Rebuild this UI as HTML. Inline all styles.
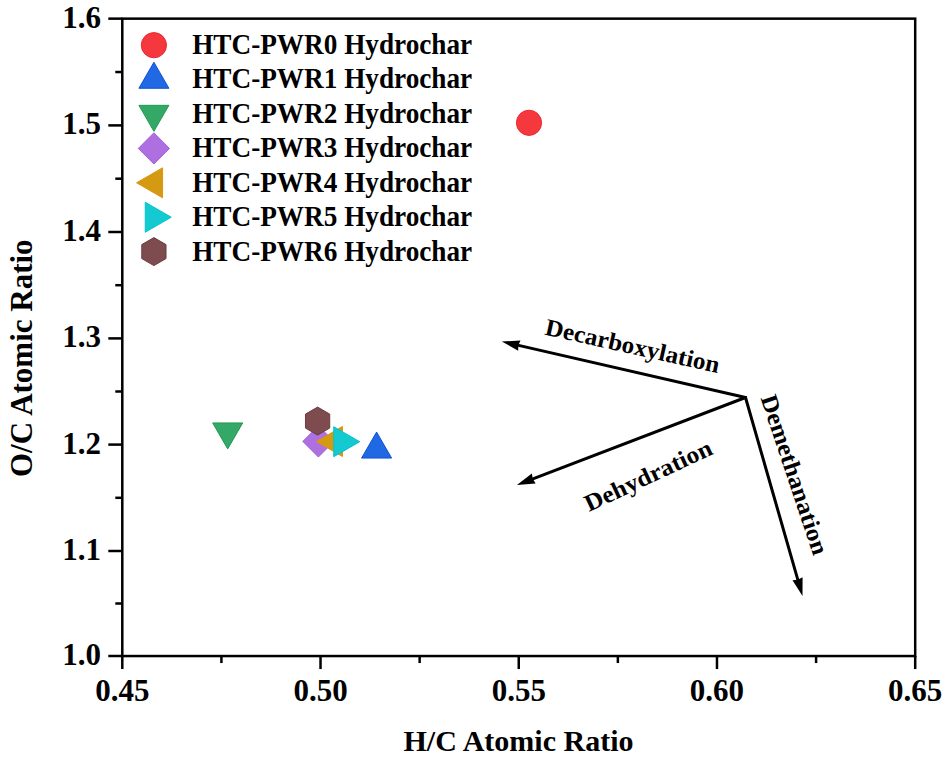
<!DOCTYPE html><html><head><meta charset="utf-8"><style>html,body{margin:0;padding:0;background:#fff;}svg{display:block;}</style></head><body>
<svg width="949" height="758" viewBox="0 0 949 758">
<rect width="949" height="758" fill="#fff"/>
<g font-family='"Liberation Serif", serif' font-weight="bold" fill="#000">
<rect x="122.3" y="18.65" width="792.9000000000001" height="637.4" fill="none" stroke="#000" stroke-width="2.5"/>
<line x1="108.3" y1="656.00" x2="122.3" y2="656.00" stroke="#000" stroke-width="2.5"/>
<line x1="115.3" y1="603.50" x2="122.3" y2="603.50" stroke="#000" stroke-width="2.5"/>
<text x="101" y="665.00" font-size="31" text-anchor="end">1.0</text>
<line x1="108.3" y1="551.00" x2="122.3" y2="551.00" stroke="#000" stroke-width="2.5"/>
<line x1="115.3" y1="497.80" x2="122.3" y2="497.80" stroke="#000" stroke-width="2.5"/>
<text x="101" y="560.00" font-size="31" text-anchor="end">1.1</text>
<line x1="108.3" y1="444.60" x2="122.3" y2="444.60" stroke="#000" stroke-width="2.5"/>
<line x1="115.3" y1="391.50" x2="122.3" y2="391.50" stroke="#000" stroke-width="2.5"/>
<text x="101" y="453.60" font-size="31" text-anchor="end">1.2</text>
<line x1="108.3" y1="338.40" x2="122.3" y2="338.40" stroke="#000" stroke-width="2.5"/>
<line x1="115.3" y1="285.20" x2="122.3" y2="285.20" stroke="#000" stroke-width="2.5"/>
<text x="101" y="347.40" font-size="31" text-anchor="end">1.3</text>
<line x1="108.3" y1="232.00" x2="122.3" y2="232.00" stroke="#000" stroke-width="2.5"/>
<line x1="115.3" y1="178.70" x2="122.3" y2="178.70" stroke="#000" stroke-width="2.5"/>
<text x="101" y="241.00" font-size="31" text-anchor="end">1.4</text>
<line x1="108.3" y1="125.40" x2="122.3" y2="125.40" stroke="#000" stroke-width="2.5"/>
<line x1="115.3" y1="72.03" x2="122.3" y2="72.03" stroke="#000" stroke-width="2.5"/>
<text x="101" y="134.40" font-size="31" text-anchor="end">1.5</text>
<line x1="108.3" y1="18.65" x2="122.3" y2="18.65" stroke="#000" stroke-width="2.5"/>
<text x="101" y="27.65" font-size="31" text-anchor="end">1.6</text>
<line x1="122.30" y1="656.05" x2="122.30" y2="669.05" stroke="#000" stroke-width="2.5"/>
<line x1="221.41" y1="656.05" x2="221.41" y2="663.05" stroke="#000" stroke-width="2.5"/>
<text x="122.30" y="701.3" font-size="31" text-anchor="middle">0.45</text>
<line x1="320.52" y1="656.05" x2="320.52" y2="669.05" stroke="#000" stroke-width="2.5"/>
<line x1="419.64" y1="656.05" x2="419.64" y2="663.05" stroke="#000" stroke-width="2.5"/>
<text x="320.52" y="701.3" font-size="31" text-anchor="middle">0.50</text>
<line x1="518.75" y1="656.05" x2="518.75" y2="669.05" stroke="#000" stroke-width="2.5"/>
<line x1="617.86" y1="656.05" x2="617.86" y2="663.05" stroke="#000" stroke-width="2.5"/>
<text x="518.75" y="701.3" font-size="31" text-anchor="middle">0.55</text>
<line x1="716.98" y1="656.05" x2="716.98" y2="669.05" stroke="#000" stroke-width="2.5"/>
<line x1="816.09" y1="656.05" x2="816.09" y2="663.05" stroke="#000" stroke-width="2.5"/>
<text x="716.98" y="701.3" font-size="31" text-anchor="middle">0.60</text>
<line x1="915.20" y1="656.05" x2="915.20" y2="669.05" stroke="#000" stroke-width="2.5"/>
<text x="915.20" y="701.3" font-size="31" text-anchor="middle">0.65</text>
<text x="518.5" y="751.1" font-size="30" text-anchor="middle">H/C Atomic Ratio</text>
<text transform="translate(31.5,358.2) rotate(-90)" x="0" y="0" font-size="31" text-anchor="middle">O/C Atomic Ratio</text>
</g>
<circle cx="153.90" cy="45.20" r="12.6" fill="#f4383e" stroke="#e82a30" stroke-width="1"/>
<text x="192.2" y="53.90" font-family='"Liberation Serif", serif' font-weight="bold" font-size="29" textLength="280" lengthAdjust="spacingAndGlyphs">HTC-PWR0 Hydrochar</text>
<polygon points="153.90,62.28 168.90,88.26 138.90,88.26" fill="#2068e4" stroke="#0c52d8" stroke-width="1" stroke-linejoin="round"/>
<text x="192.2" y="88.35" font-family='"Liberation Serif", serif' font-weight="bold" font-size="29" textLength="280" lengthAdjust="spacingAndGlyphs">HTC-PWR1 Hydrochar</text>
<polygon points="153.90,131.32 168.90,105.34 138.90,105.34" fill="#34a866" stroke="#1f9a50" stroke-width="1" stroke-linejoin="round"/>
<text x="192.2" y="122.80" font-family='"Liberation Serif", serif' font-weight="bold" font-size="29" textLength="280" lengthAdjust="spacingAndGlyphs">HTC-PWR2 Hydrochar</text>
<polygon points="153.90,132.80 169.50,148.40 153.90,164.00 138.30,148.40" fill="#ae70e0" stroke="#a060dc" stroke-width="1" stroke-linejoin="round"/>
<text x="192.2" y="157.25" font-family='"Liberation Serif", serif' font-weight="bold" font-size="29" textLength="280" lengthAdjust="spacingAndGlyphs">HTC-PWR3 Hydrochar</text>
<polygon points="136.58,182.80 162.56,167.80 162.56,197.80" fill="#d49a12" stroke="#e09410" stroke-width="1" stroke-linejoin="round"/>
<text x="192.2" y="191.70" font-family='"Liberation Serif", serif' font-weight="bold" font-size="29" textLength="280" lengthAdjust="spacingAndGlyphs">HTC-PWR4 Hydrochar</text>
<polygon points="171.22,217.20 145.24,202.20 145.24,232.20" fill="#14cad0" stroke="#00c4cc" stroke-width="1" stroke-linejoin="round"/>
<text x="192.2" y="226.15" font-family='"Liberation Serif", serif' font-weight="bold" font-size="29" textLength="280" lengthAdjust="spacingAndGlyphs">HTC-PWR5 Hydrochar</text>
<polygon points="153.90,237.60 141.78,244.60 141.78,258.60 153.90,265.60 166.02,258.60 166.02,244.60" fill="#7e4c4e" stroke="#6c3c40" stroke-width="1" stroke-linejoin="round"/>
<text x="192.2" y="260.60" font-family='"Liberation Serif", serif' font-weight="bold" font-size="29" textLength="280" lengthAdjust="spacingAndGlyphs">HTC-PWR6 Hydrochar</text>
<circle cx="529.00" cy="122.80" r="12.6" fill="#f4383e" stroke="#e82a30" stroke-width="1"/>
<polygon points="227.70,448.92 242.70,422.94 212.70,422.94" fill="#34a866" stroke="#1f9a50" stroke-width="1" stroke-linejoin="round"/>
<polygon points="318.40,425.80 334.00,441.40 318.40,457.00 302.80,441.40" fill="#ae70e0" stroke="#a060dc" stroke-width="1" stroke-linejoin="round"/>
<polygon points="316.48,441.50 342.46,426.50 342.46,456.50" fill="#d49a12" stroke="#e09410" stroke-width="1" stroke-linejoin="round"/>
<polygon points="317.60,407.10 305.48,414.10 305.48,428.10 317.60,435.10 329.72,428.10 329.72,414.10" fill="#7e4c4e" stroke="#6c3c40" stroke-width="1" stroke-linejoin="round"/>
<polygon points="359.72,441.70 333.74,426.70 333.74,456.70" fill="#14cad0" stroke="#00c4cc" stroke-width="1" stroke-linejoin="round"/>
<polygon points="376.60,432.08 391.60,458.06 361.60,458.06" fill="#2068e4" stroke="#0c52d8" stroke-width="1" stroke-linejoin="round"/>
<line x1="745.5" y1="397.5" x2="516.42" y2="344.86" stroke="#000" stroke-width="3" stroke-linecap="round"/><polygon points="501.80,341.50 520.52,340.41 518.37,345.31 518.17,350.65" fill="#000"/>
<line x1="745.5" y1="397.5" x2="530.91" y2="479.54" stroke="#000" stroke-width="3" stroke-linecap="round"/><polygon points="516.90,484.90 531.84,473.57 532.78,478.83 535.59,483.38" fill="#000"/>
<line x1="745.5" y1="397.5" x2="798.36" y2="581.58" stroke="#000" stroke-width="3" stroke-linecap="round"/><polygon points="802.50,596.00 792.49,580.15 797.81,579.66 802.58,577.25" fill="#000"/>
<g font-family='"Liberation Serif", serif' font-weight="bold" fill="#000" font-size="24">
<text transform="translate(544,334.5) rotate(12.5)" textLength="178" lengthAdjust="spacingAndGlyphs">Decarboxylation</text>
<text transform="translate(589,512) rotate(-25)" textLength="138" lengthAdjust="spacingAndGlyphs">Dehydration</text>
<text transform="translate(760.5,398) rotate(71.5)" textLength="167" lengthAdjust="spacingAndGlyphs">Demethanation</text>
</g>
</svg></body></html>
